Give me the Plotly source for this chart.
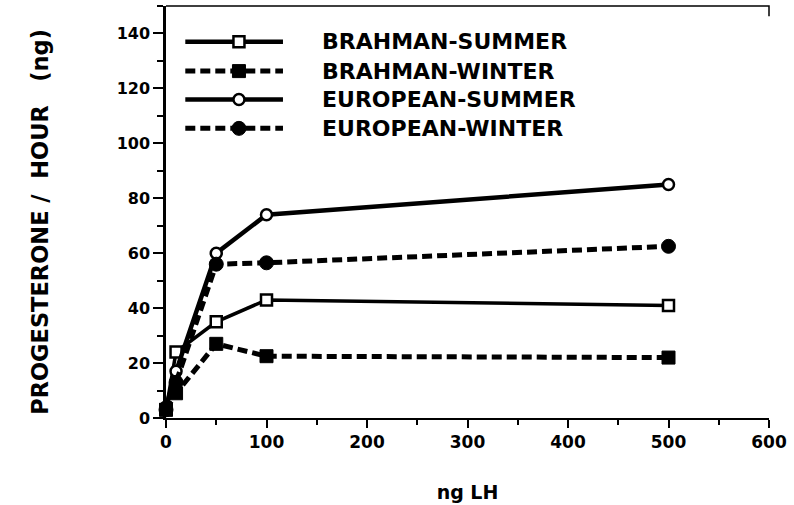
import plotly.graph_objects as go

# LH dose (ng) and progesterone output (ng per hour)
lh_dose = [0, 10, 50, 100, 500]
brahman_summer = [3, 24, 35, 43, 41]
brahman_winter = [3, 9, 27, 22.5, 22]
european_summer = [4, 17, 60, 74, 85]
european_winter = [3, 13, 56, 56.5, 62.5]

series_names = ["BRAHMAN-SUMMER", "BRAHMAN-WINTER", "EUROPEAN-SUMMER", "EUROPEAN-WINTER"]

x_ticks = [0, 100, 200, 300, 400, 500, 600]
y_ticks = [0, 20, 40, 60, 80, 100, 120, 140]

FONT = "DejaVu Sans"
DASH = "10px,5px"

styles = [
    dict(line=dict(color="black", width=3.5),
         marker=dict(symbol="square", size=11, color="white", line=dict(color="black", width=2.5))),
    dict(line=dict(color="black", width=5, dash=DASH),
         marker=dict(symbol="square", size=13, color="black", line=dict(color="black", width=1))),
    dict(line=dict(color="black", width=4.5),
         marker=dict(symbol="circle", size=11, color="white", line=dict(color="black", width=2.5))),
    dict(line=dict(color="black", width=5, dash=DASH),
         marker=dict(symbol="circle", size=14, color="black", line=dict(color="black", width=1))),
]

fig = go.Figure()

for name, values, st in zip(series_names,
                            [brahman_summer, brahman_winter, european_summer, european_winter],
                            styles):
    fig.add_trace(go.Scatter(x=lh_dose, y=values, mode="lines+markers", name=name,
                             line=st["line"], marker=st["marker"], showlegend=False,
                             cliponaxis=False))

# Key drawn on an overlay axis spanning the plot area (0..1 in both directions)
key_x0, key_x1, key_xm, key_text_x = 0.032, 0.194, 0.121, 0.255
key_rows = [0.913, 0.842, 0.773, 0.703]
for name, st, ky in zip(series_names, styles, key_rows):
    key_line = dict(st["line"], width=max(st["line"]["width"], 4.5))
    fig.add_trace(go.Scatter(x=[key_x0, key_x1], y=[ky, ky], mode="lines", line=key_line,
                             xaxis="x2", yaxis="y2", showlegend=False, hoverinfo="skip"))
    fig.add_trace(go.Scatter(x=[key_xm], y=[ky], mode="markers", marker=st["marker"],
                             xaxis="x2", yaxis="y2", showlegend=False, hoverinfo="skip"))
    fig.add_annotation(x=key_text_x, y=ky, xref="x2", yref="y2", text=name, showarrow=False,
                       xanchor="left", yanchor="middle",
                       font=dict(family=FONT, size=22, color="black", weight="bold"))

# Vertical axis title
fig.add_annotation(x=-0.209, y=0.476, xref="paper", yref="paper", textangle=-90,
                   text="PROGESTERONE /\u00a0\u00a0HOUR\u00a0\u00a0\u00a0(ng)", showarrow=False,
                   xanchor="center", yanchor="middle",
                   font=dict(family=FONT, size=22.5, color="black", weight="bold"))

axis_common = dict(showgrid=False, zeroline=False, showline=True, linecolor="black",
                   ticks="outside", tickcolor="black", tickwidth=2)

fig.update_layout(
    width=794, height=505,
    margin=dict(l=166, r=25, t=6, b=87),
    paper_bgcolor="white", plot_bgcolor="white",
    font=dict(family=FONT, color="black", weight="bold"),
    xaxis=dict(range=[0, 600], tickvals=x_ticks, ticklen=8, linewidth=2,
               tickfont=dict(family=FONT, size=17, weight="bold"),
               minor=dict(dtick=50, tick0=0, ticks="outside", ticklen=5, tickwidth=2, tickcolor="black"),
               title=dict(text="ng LH", font=dict(family=FONT, size=19, weight="bold"), standoff=34),
               automargin=False, **axis_common),
    yaxis=dict(range=[0, 150], tickvals=y_ticks, ticklen=10, linewidth=2.5,
               tickfont=dict(family=FONT, size=16, weight="bold"),
               minor=dict(dtick=10, tick0=0, ticks="outside", ticklen=6, tickwidth=2, tickcolor="black"),
               automargin=False, **axis_common),
    xaxis2=dict(range=[0, 1], overlaying="x", visible=False, fixedrange=True),
    yaxis2=dict(range=[0, 1], overlaying="y", visible=False, fixedrange=True),
)

# Frame edge along the top of the plot area
fig.add_shape(type="path", path="M 0 1 L 1 1 L 1 0.975", xref="x domain", yref="y domain",
              line=dict(color="black", width=1.5))

fig.write_html("out.html")
